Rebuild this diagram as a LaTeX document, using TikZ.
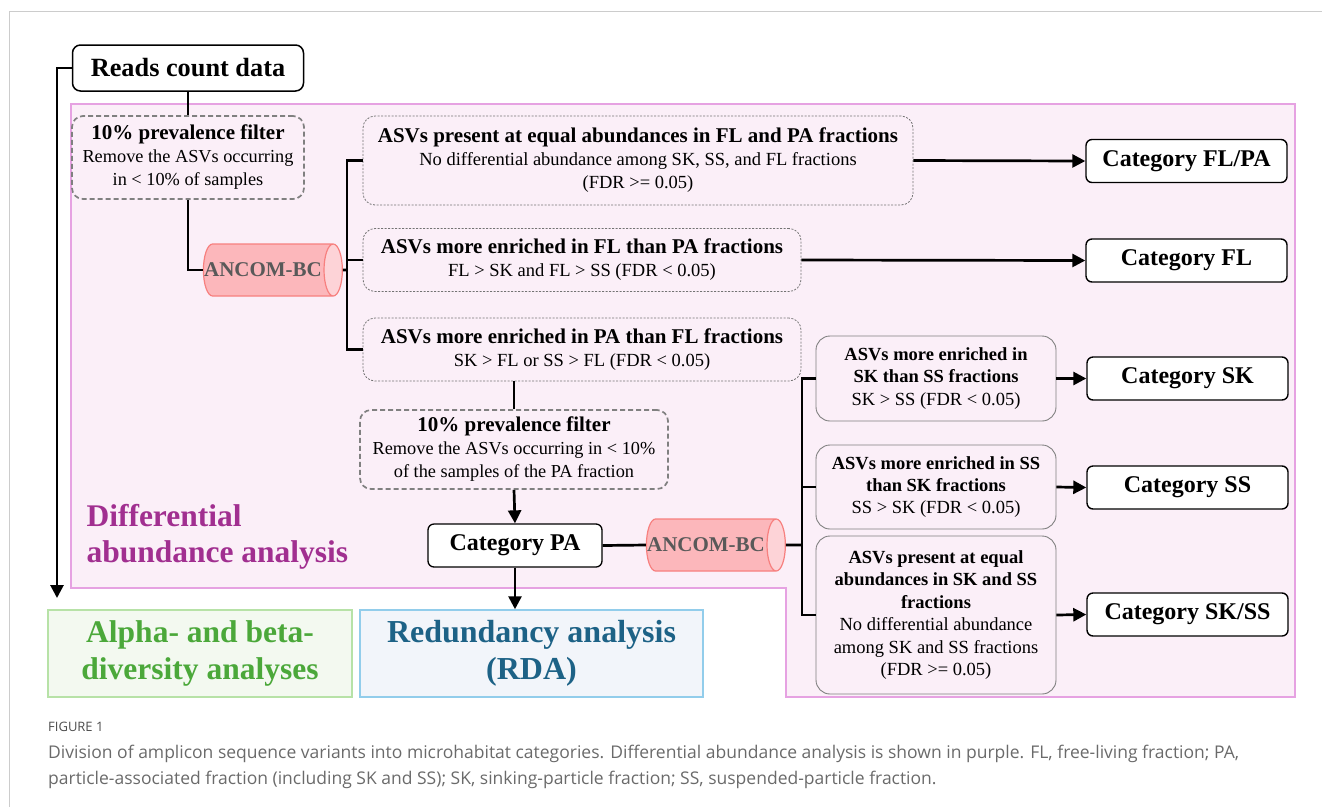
\documentclass[tikz,border=0pt]{standalone}
\usepackage{fontspec}
\setmainfont{Liberation Serif}
\newfontfamily\capfont{Open Sans}
\usetikzlibrary{arrows.meta,shapes.geometric}
\definecolor{daback}{HTML}{FBEFF8}
\definecolor{daline}{HTML}{E6A2E2}
\definecolor{datext}{HTML}{A12F90}
\definecolor{ancfill}{HTML}{FCB7BB}
\definecolor{ancline}{HTML}{F7807F}
\definecolor{ancend}{HTML}{FDD3D7}
\definecolor{alphafill}{HTML}{F3F9F0}
\definecolor{alphaline}{HTML}{B7E2A7}
\definecolor{alphatext}{HTML}{4BA83A}
\definecolor{rdafill}{HTML}{F2F5FA}
\definecolor{rdaline}{HTML}{92CDEB}
\definecolor{rdatext}{HTML}{1D6286}
\definecolor{captext}{HTML}{6A6A6A}
\tikzstyle{catbox}=[draw=black,line width=1.4pt,rounded corners=6pt,fill=white,minimum width=201pt,minimum height=43pt,inner sep=0pt,font=\fontsize{24}{26}\selectfont\bfseries]
\tikzstyle{filterbox}=[draw=black!50,dash pattern=on 5pt off 3pt,line width=1.7pt,rounded corners=11pt,align=center,inner sep=0pt,font=\fontsize{18.3}{23}\selectfont]
\tikzstyle{testbox}=[draw=black!55,dash pattern=on 2pt off 1.5pt,line width=0.8pt,rounded corners=12pt,align=center,inner sep=0pt,font=\fontsize{18.5}{23}\selectfont]
\tikzstyle{subbox}=[draw=black!50,line width=0.9pt,rounded corners=14pt,align=center,inner sep=0pt,minimum width=240pt,font=\fontsize{18.5}{22.4}\selectfont]
\tikzstyle{ancom}=[cylinder,draw=ancline,line width=1.2pt,cylinder uses custom fill,cylinder body fill=ancfill,cylinder end fill=ancend,aspect=1.3,minimum height=131pt,minimum width=52pt,inner xsep=1.5pt,inner ysep=0pt,text=black!65,font=\fontsize{21}{23}\selectfont\bfseries]
\tikzstyle{conn}=[draw,line width=2.7pt]
\tikzstyle{arr}=[draw,line width=2.7pt,-{Triangle[length=13pt,width=13pt]}]
\newcommand{\hd}[1]{{\fontsize{21}{23}\selectfont\bfseries #1}}
\newcommand{\shd}[1]{{\fontsize{18.5}{22.4}\selectfont\bfseries #1}}
\newcommand{\anctxt}{\hspace*{-10pt}ANCOM-BC}

\begin{document}
\begin{tikzpicture}[x=1pt,y=-1pt]
    \useasboundingbox (0,0) rectangle (1322,807);
    % frame of the figure and the purple region
    \draw[black!20,line width=1pt] (1322,11) -- (9,11) -- (9,807);
    \draw[daline,fill=daback,line width=1.6pt] (71,104) -- (1295,104) -- (1295,697)
        -- (786,697) -- (786,588) -- (71,588) -- cycle;
    \node[text=datext,align=left,anchor=west,font=\fontsize{31.5}{36}\selectfont\bfseries] (datitle) at (83,537) {Differential\\abundance analysis};

    % First we draw the boxes
    \node[draw=black,line width=1.5pt,rounded corners=8pt,fill=white,minimum width=231pt,minimum height=46pt,inner sep=0pt,font=\fontsize{26.3}{29}\selectfont\bfseries] (reads) at (188,68) {Reads count data};
    \node[filterbox,minimum width=232pt,minimum height=83pt] (filt1) at (188,157.5) {\hd{10\% prevalence filter}\\Remove the ASVs occurring\\in < 10\% of samples};
    \node[ancom] (anc1) at (268,270) {\anctxt};
    \node[testbox,minimum width=550pt,minimum height=89pt] (box1) at (638,160.5) {\hd{ASVs present at equal abundances in FL and PA fractions}\\No differential abundance among SK, SS, and FL fractions\\(FDR >= 0.05)};
    \node[testbox,minimum width=438pt,minimum height=63pt] (box2) at (582,260) {\hd{ASVs more enriched in FL than PA fractions}\\FL > SK and FL > SS (FDR < 0.05)};
    \node[testbox,minimum width=438pt,minimum height=63pt] (box3) at (582,349.5) {\hd{ASVs more enriched in PA than FL fractions}\\SK > FL or SS > FL (FDR < 0.05)};
    \node[filterbox,minimum width=308pt,minimum height=79pt] (filt2) at (514,449.5) {\hd{10\% prevalence filter}\\Remove the ASVs occurring in < 10\%\\of the samples of the PA fraction};
    \node[draw=black,line width=1.3pt,rounded corners=6pt,fill=white,minimum width=174pt,minimum height=43pt,inner sep=0pt,font=\fontsize{24}{26}\selectfont\bfseries] (catpa) at (515,545.5) {Category PA};
    \node[ancom] (anc2) at (711,545) {\anctxt};
    \node[subbox,minimum height=85pt] (boxsk) at (936,378.5) {\shd{ASVs more enriched in}\\\shd{SK than SS fractions}\\SK > SS (FDR < 0.05)};
    \node[subbox,minimum height=84pt] (boxss) at (936,487) {\shd{ASVs more enriched in SS}\\\shd{than SK fractions}\\SS > SK (FDR < 0.05)};
    \node[subbox,minimum height=158pt] (boxskss) at (936,615) {\shd{ASVs present at equal}\\\shd{abundances in SK and SS}\\\shd{fractions}\\No differential abundance\\among SK and SS fractions\\(FDR >= 0.05)};
    \foreach \pos/\name/\txt in {{(1186.5,161)/catflpa/{Category FL/PA}}, {(1186.5,260.5)/catfl/{Category FL}},
                            {(1187.5,378.5)/catsk/{Category SK}}, {(1187.5,487.5)/catss/{Category SS}}, {(1187.5,614.5)/catskss/{Category SK/SS}}}
        \node[catbox] (\name) at \pos {\txt};
    \node[draw=alphaline,fill=alphafill,line width=1.5pt,minimum width=304pt,minimum height=87pt,inner sep=0pt,align=center,text=alphatext,font=\fontsize{31.5}{37}\selectfont\bfseries] (alpha) at (200,653.5) {Alpha- and beta-\\diversity analyses};
    \node[draw=rdaline,fill=rdafill,line width=1.5pt,minimum width=343pt,minimum height=87pt,inner sep=0pt,align=center,text=rdatext,font=\fontsize{32}{37}\selectfont\bfseries] (rda) at (531.5,653.5) {Redundancy analysis\\(RDA)};

    % free ends of the connectors
    \coordinate (divend) at (57,598);
    \coordinate (busA) at (347,270);
    \coordinate (busB) at (802,545);

    % Connect the boxes
    \path[arr] (reads.west) -| (divend);
    \path[conn] (reads.south) -- (filt1.north);
    \path[conn] (filt1.south) |- (anc1.west);
    \path[conn] (anc1.east) -- (busA);
    \path[conn] (box1.west) -| (busA) |- (box3.west);
    \path[conn] (box2.west) -- (box2.west -| busA);
    \path[arr] (box1.east) -- (catflpa.west);
    \path[arr] (box2.east) -- (catfl.west);
    \path[conn] (box3.south -| filt2.north) -- (filt2.north);
    \path[arr] (filt2.south) -- (catpa.north);
    \path[arr] (catpa.south) -- (catpa.south |- rda.north);
    \path[conn] (catpa.east) -- (anc2.west);
    \path[conn] (anc2.east) -- (busB);
    \path[conn] (boxsk.west) -| (busB) |- (boxskss.west);
    \path[conn] (boxss.west) -- (boxss.west -| busB);
    \foreach \source/\dest in {boxsk/catsk, boxss/catss, boxskss/catskss}
        \path[arr] (\source.east) -- (\dest.west);

    % caption
    \node[anchor=west,inner sep=0pt,text=black!70,font=\capfont\fontsize{13}{15}\selectfont] (capnum) at (48,727) {FIGURE 1};
    \node[anchor=north west,inner sep=0pt,align=left,text=captext,font=\capfont\fontsize{17.5}{26}\selectfont] (captxt) at (48,745) {Division of amplicon sequence variants into microhabitat categories. Differential abundance analysis is shown in purple. FL, free-living fraction; PA,\\particle-associated fraction (including SK and SS); SK, sinking-particle fraction; SS, suspended-particle fraction.};
\end{tikzpicture}
\end{document}
